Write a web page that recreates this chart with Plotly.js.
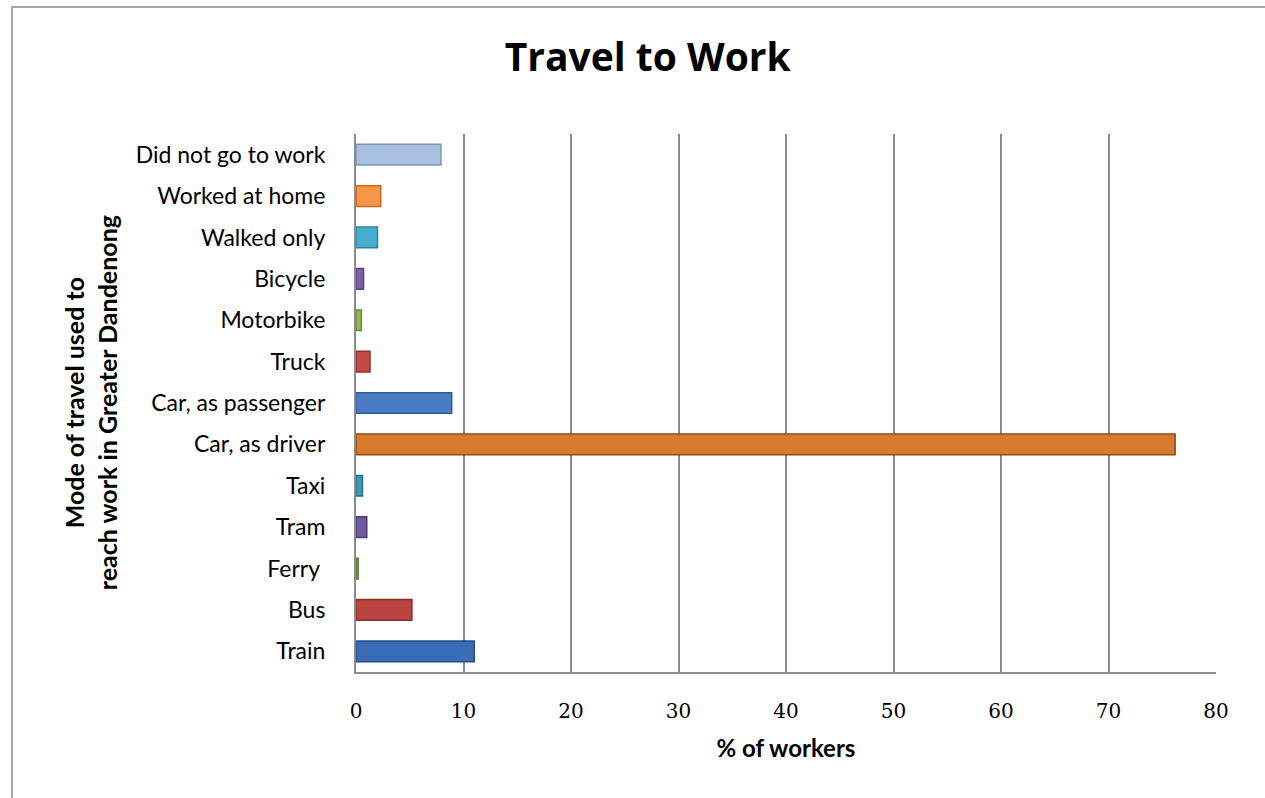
<!DOCTYPE html>
<html>
<head>
<meta charset="utf-8">
<script src="https://cdn.plot.ly/plotly-3.0.1.min.js"></script>
<style>
  html, body { margin: 0; padding: 0; background: #fff; }
  #chart { width: 1265px; height: 798px; position: relative; }
  #frame { position: absolute; left: 11px; top: 6px; width: 1300px; height: 850px;
           border-top: 2px solid #a6a6a6; border-left: 2px solid #a6a6a6; pointer-events: none; }
</style>
</head>
<body>
<div id="chart"></div>
<div id="frame"></div>
<script>
const categories = ["Train", "Bus", "Ferry ", "Tram", "Taxi", "Car, as driver", "Car, as passenger",
                    "Truck", "Motorbike", "Bicycle", "Walked only", "Worked at home", "Did not go to work"];
const values = [11.0, 5.2, 0.2, 1.0, 0.6, 76.2, 8.9, 1.3, 0.5, 0.7, 2.0, 2.3, 7.9];
const barColors = ["#3a6db5", "#b94441", "#8aab4c", "#7359a0", "#3a9ab8", "#d77a2e", "#4a7cc4",
                   "#c44a46", "#93b654", "#7d5fa6", "#45aed0", "#f79646", "#a8bfe0"];
const edgeColors = ["#234f8c", "#8a2f2c", "#5f7a30", "#4f3a78", "#26708a", "#8f4c15", "#2f5a99",
                    "#922f2c", "#6a8a35", "#56407a", "#2c84a3", "#c06a22", "#7d96bb"];
const xTicks = [0, 10, 20, 30, 40, 50, 60, 70, 80];

const trace = {
  type: "bar",
  orientation: "h",
  x: values,
  y: categories,
  width: 0.5,
  marker: { color: barColors, line: { color: edgeColors, width: 1.5 } },
  hoverinfo: "x+y"
};

const layout = {
  width: 1265,
  height: 798,
  margin: { l: 356, r: 49, t: 134, b: 126 },
  paper_bgcolor: "#ffffff",
  plot_bgcolor: "#ffffff",
  showlegend: false,
  title: {
    text: "<b>Travel to Work</b>",
    font: { family: "Open Sans, Lato, sans-serif", size: 39, color: "#000" },
    xref: "container", x: 0.512, xanchor: "center",
    yref: "container", y: 0.928, yanchor: "middle"
  },
  xaxis: {
    range: [0, 80],
    tickvals: xTicks,
    ticktext: xTicks.map(String),
    showgrid: true,
    gridcolor: "#8c8c8c",
    gridwidth: 2,
    zeroline: false,
    showline: true,
    linecolor: "#8c8c8c",
    linewidth: 2,
    ticks: "outside",
    ticklen: 20,
    tickcolor: "rgba(0,0,0,0)",
    tickfont: { family: "DejaVu Serif, Liberation Serif, serif", size: 20, color: "#000" },
    title: {
      text: "<b>% of workers</b>",
      font: { family: "Lato, Open Sans, sans-serif", size: 24, color: "#000" },
      standoff: 18
    },
    fixedrange: true
  },
  yaxis: {
    type: "category",
    categoryorder: "array",
    categoryarray: categories,
    range: [-0.5, 12.5],
    showgrid: false,
    zeroline: false,
    showline: true,
    linecolor: "#8c8c8c",
    linewidth: 2,
    ticks: "outside",
    ticklen: 24,
    tickcolor: "rgba(0,0,0,0)",
    tickfont: { family: "Lato, Open Sans, sans-serif", size: 23, color: "#000" },
    fixedrange: true
  },
  annotations: [{
    text: "<b>Mode of travel used to<br>reach work in Greater Dandenong</b>",
    xref: "paper", yref: "paper",
    x: -0.309, y: 0.5,
    xanchor: "center", yanchor: "middle",
    textangle: -90,
    showarrow: false,
    font: { family: "Lato, Open Sans, sans-serif", size: 25, color: "#000" }
  }]
};

Plotly.newPlot("chart", [trace], layout, { displayModeBar: false, staticPlot: true });
</script>
</body>
</html>
